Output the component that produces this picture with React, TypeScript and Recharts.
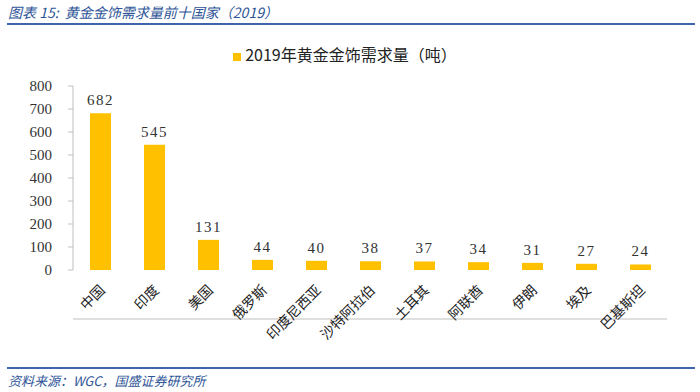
import React from "react";
import { BarChart, Bar, XAxis, YAxis, Legend, LabelList } from "recharts";

const countries = ["中国", "印度", "美国", "俄罗斯", "印度尼西亚", "沙特阿拉伯", "土耳其", "阿联酋", "伊朗", "埃及", "巴基斯坦"];
const demand = [682, 545, 131, 44, 40, 38, 37, 34, 31, 27, 24];
const yTicks = [0, 100, 200, 300, 400, 500, 600, 700, 800];
const seriesName = "2019年黄金金饰需求量（吨）";

const data = countries.map((c, i) => ({ c, v: demand[i], pos: i + 0.5 }));
const boundaryTicks = countries.map((_, i) => i).concat([countries.length]);

const blue = "#2F5597";
const serif = "'Liberation Serif', 'DejaVu Serif', serif";
const cjk = "'Noto Sans CJK SC', sans-serif";

const CountryTick = (props: any) => {
    const { x, y, payload } = props;
    return (
        <text
            x={x + 6}
            y={y + 13}
            transform={`rotate(-45, ${x + 6}, ${y + 13})`}
            textAnchor="end"
            fontSize={14}
            fontFamily={cjk}
            fill="#222"
        >
            {payload.value}
        </text>
    );
};

export default function App() {
    return (
        <div style={{ position: "absolute", left: 0, top: 0, width: 700, height: 392, background: "#fff" }}>
            {/* header */}
            <div style={{ position: "absolute", left: 8, top: 2, fontFamily: cjk, fontStyle: "italic", fontSize: 14, color: blue, whiteSpace: "pre" }}>
                图表 15:  黄金金饰需求量前十国家（2019）
            </div>
            <div style={{ position: "absolute", left: 7, top: 23, width: 688, height: 2, background: "#3F64AE" }} />

            <div style={{ position: "absolute", left: 0, top: 0 }}>
                <BarChart width={700} height={392} data={data} margin={{ top: 62, right: 33, left: 13, bottom: 72 }}>
                    {/* tick marks between categories */}
                    <XAxis
                        xAxisId="grid"
                        type="number"
                        dataKey="pos"
                        domain={[0, countries.length]}
                        ticks={boundaryTicks}
                        interval={0}
                        axisLine={{ stroke: "#bfbfbf" }}
                        tickLine={{ stroke: "#bfbfbf" }}
                        tickSize={5}
                        tick={false}
                        height={1}
                    />
                    <XAxis
                        dataKey="c"
                        xAxisId="cat"
                        interval={0}
                        axisLine={false}
                        tickLine={false}
                        tick={<CountryTick />}
                        height={49}
                    />
                    <YAxis
                        width={60}
                        domain={[0, 800]}
                        ticks={yTicks}
                        interval={0}
                        axisLine={{ stroke: "#bfbfbf" }}
                        tickLine={{ stroke: "#bfbfbf" }}
                        tickSize={5}
                        tickMargin={16}
                        tick={{ fill: "#333", fontSize: 15, fontFamily: serif }}
                    />
                    <Legend
                        verticalAlign="top"
                        iconType="square"
                        iconSize={8}
                        wrapperStyle={{ top: 42, left: 0, width: 700 }}
                        formatter={(value: string) => (
                            <span style={{ color: "#222", fontSize: 16, fontFamily: cjk }}>{value}</span>
                        )}
                    />
                    <Bar xAxisId="cat" dataKey="v" name={seriesName} fill="#FFC000" barSize={21} isAnimationActive={false}>
                        <LabelList
                            dataKey="v"
                            position="top"
                            offset={8}
                            style={{ fill: "#333", fontSize: 15, fontFamily: serif, letterSpacing: 1.5 }}
                        />
                    </Bar>
                </BarChart>
            </div>

            {/* footer */}
            <div style={{ position: "absolute", left: 7, top: 367, width: 688, height: 2, background: "#3F64AE" }} />
            <div style={{ position: "absolute", left: 8, top: 371, fontFamily: cjk, fontStyle: "italic", fontSize: 13, color: blue }}>
                资料来源：WGC，国盛证券研究所
            </div>
        </div>
    );
}
